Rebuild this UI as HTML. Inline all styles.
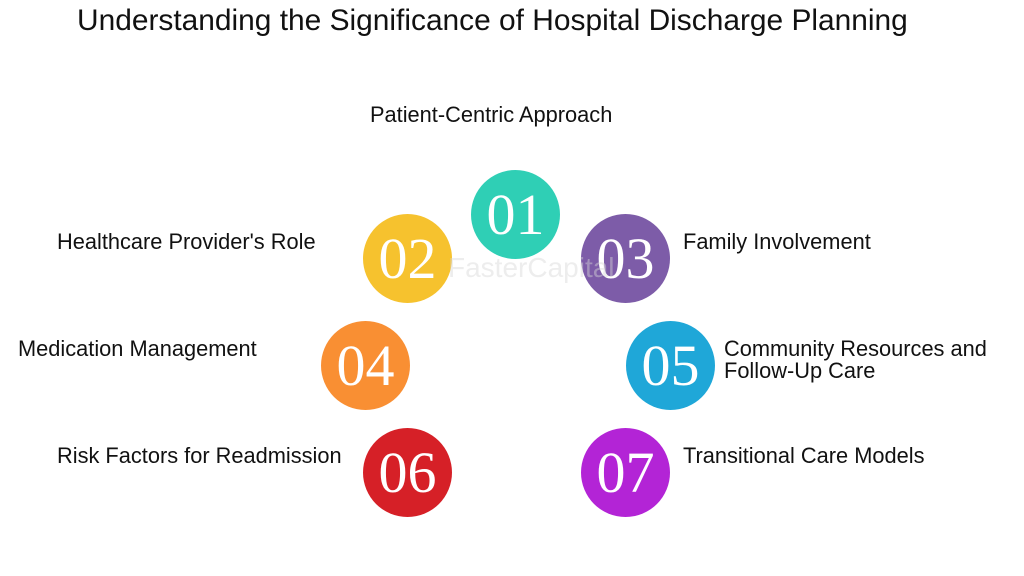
<!DOCTYPE html>
<html><head><style>
body{margin:0;width:1024px;height:576px;background:#fff;position:relative;overflow:hidden;font-family:"Liberation Sans",sans-serif;color:#111}
.t{position:absolute;white-space:nowrap;font-size:21.8px;line-height:22px}
.c{position:absolute;width:89px;height:89px;border-radius:50%;color:#fff;font-family:"Liberation Serif",serif;font-size:58px;text-align:center;line-height:89px;letter-spacing:0px}
</style></head><body>
<div class="t" style="left:77px;top:4px;font-size:29.9px;line-height:34px">Understanding the Significance of Hospital Discharge Planning</div>
<div class="t" style="left:370px;top:104px">Patient-Centric Approach</div>
<div class="t" style="left:57px;top:231px">Healthcare Provider's Role</div>
<div class="t" style="left:683px;top:231px">Family Involvement</div>
<div class="t" style="left:18px;top:338px">Medication Management</div>
<div class="t" style="left:724px;top:338px">Community Resources and<br>Follow-Up Care</div>
<div class="t" style="left:57px;top:445px">Risk Factors for Readmission</div>
<div class="t" style="left:683px;top:445px">Transitional Care Models</div>
<div class="c" style="left:471px;top:170px;background:#2fcfb5">01</div>
<div class="c" style="left:363px;top:214px;background:#f6c22e">02</div>
<div class="c" style="left:581px;top:214px;background:#7d5ca8">03</div>
<div class="c" style="left:321px;top:321px;background:#f98f33">04</div>
<div class="c" style="left:626px;top:321px;background:#1fa7d8">05</div>
<div class="c" style="left:363px;top:428px;background:#d62027">06</div>
<div class="c" style="left:581px;top:428px;background:#b324d6">07</div>
<div class="t" style="left:448px;top:253px;font-size:28px;line-height:30px;color:rgba(215,215,215,0.45)">FasterCapital</div>
</body></html>
